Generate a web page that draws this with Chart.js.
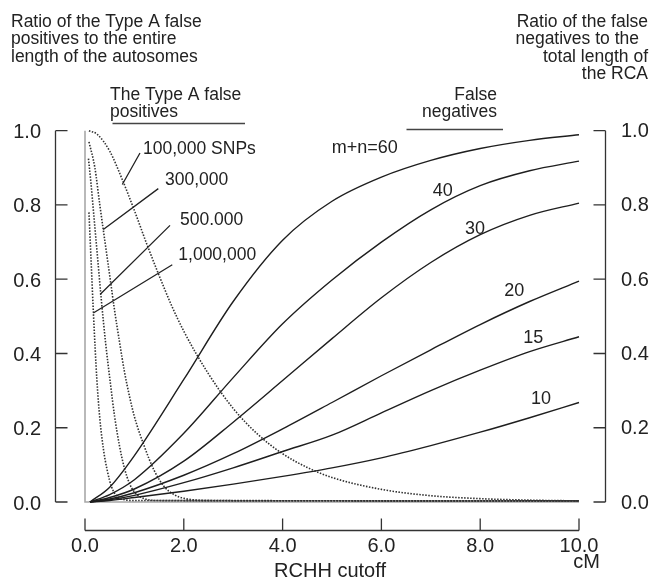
<!DOCTYPE html>
<html>
<head>
<meta charset="utf-8">
<script src="https://cdn.jsdelivr.net/npm/chart.js@4"></script>
<style>
html,body{margin:0;padding:0;background:#fff;}
#wrap{width:652px;height:579px;}
</style>
</head>
<body>
<div id="wrap"><canvas id="c" width="652" height="579"></canvas></div>
<script>
// ---- tick labels ----
const xTicks = [0, 2, 4, 6, 8, 10];
const xTickLabels = ['0.0', '2.0', '4.0', '6.0', '8.0', '10.0'];
const yTicks = [0, 0.2, 0.4, 0.6, 0.8, 1.0];
const yTickLabels = ['0.0', '0.2', '0.4', '0.6', '0.8', '1.0'];

// ---- false negatives (solid), by m+n ----
const fnNames = ['m+n=60', '40', '30', '20', '15', '10'];
const fnX = [0.1, 0.5, 1.0, 2.0, 3.0, 4.0, 5.0, 6.0, 7.0, 8.0, 9.0, 10];
const fn60Y = [0, 0.04, 0.125, 0.33, 0.54, 0.705, 0.81, 0.875, 0.92, 0.952, 0.974, 0.989];
const fn40Y = [0, 0.02, 0.06, 0.185, 0.335, 0.48, 0.598, 0.70, 0.787, 0.852, 0.892, 0.918];
const fn30Y = [0, 0.012, 0.035, 0.11, 0.215, 0.327, 0.44, 0.55, 0.645, 0.72, 0.772, 0.805];
const fn20Y = [0, 0.008, 0.025, 0.072, 0.13, 0.197, 0.268, 0.34, 0.41, 0.478, 0.54, 0.595];
const fn15Y = [0, 0.006, 0.018, 0.052, 0.092, 0.136, 0.18, 0.24, 0.30, 0.355, 0.405, 0.445];
const fn10Y = [0, 0.004, 0.012, 0.029, 0.048, 0.069, 0.092, 0.119, 0.152, 0.188, 0.227, 0.268];

// ---- Type A false positives (dotted), by number of SNPs ----
const fpNames = ['100,000 SNPs', '300,000', '500.000', '1,000,000'];
const fp100kX = [0.08, 0.25, 0.5, 0.75, 1.0, 1.25, 1.5, 1.75, 2.0, 2.5, 3.0, 3.5, 4.0, 4.5, 5.0, 6.0, 7.0, 8.0, 9.0, 10];
const fp100kY = [1.0, 0.99, 0.945, 0.87, 0.785, 0.695, 0.61, 0.53, 0.46, 0.345, 0.252, 0.182, 0.13, 0.093, 0.066, 0.034, 0.017, 0.009, 0.005, 0.003];
const fp300kX = [0.08, 0.2, 0.3, 0.4, 0.5, 0.6, 0.7, 0.8, 0.9, 1.0, 1.2, 1.4, 1.6, 1.8, 2.0, 2.5, 10];
const fp300kY = [0.97, 0.90, 0.80, 0.705, 0.61, 0.515, 0.43, 0.35, 0.285, 0.23, 0.15, 0.085, 0.042, 0.02, 0.01, 0.004, 0.003];
const fp500kX = [0.07, 0.12, 0.18, 0.25, 0.33, 0.42, 0.51, 0.6, 0.7, 0.8, 0.9, 1.0, 1.2, 1.5, 10];
const fp500kY = [0.925, 0.86, 0.77, 0.665, 0.545, 0.425, 0.324, 0.23, 0.15, 0.09, 0.05, 0.027, 0.009, 0.004, 0.003];
const fp1mX = [0.08, 0.12, 0.17, 0.24, 0.3, 0.37, 0.45, 0.54, 0.65, 0.8, 1.0, 10];
const fp1mY = [0.78, 0.66, 0.51, 0.33, 0.225, 0.145, 0.085, 0.04, 0.015, 0.006, 0.004, 0.003];

// leader lines for the false-positive labels: [x1, y1, x2, y2] in data units
const leader100k = [1.113, 0.940, 0.755, 0.855];
const leader300k = [1.484, 0.844, 0.370, 0.734];
const leader500k = [1.721, 0.745, 0.304, 0.559];
const leader1m = [1.767, 0.639, 0.168, 0.509];

function pts(xs, ys) { return xs.map((x, i) => ({ x: x, y: ys[i] })); }

const FONT = '"Liberation Sans", Arial, Helvetica, sans-serif';

function solid(label, xs, ys) {
  return { label, data: pts(xs, ys), borderColor: '#1e1e1e', borderWidth: 1.4,
    pointRadius: 0, cubicInterpolationMode: 'monotone', fill: false, clip: false };
}
function dotted(label, xs, ys) {
  return { label, data: pts(xs, ys), borderColor: '#303030', borderWidth: 1.6,
    borderDash: [1.5, 1.5], pointRadius: 0, cubicInterpolationMode: 'monotone', fill: false, clip: false };
}

const annot = {
  id: 'annot',
  beforeDatasetsDraw(chart) {
    const ctx = chart.ctx, xs = chart.scales.x, ys = chart.scales.y;
    ctx.save();
    ctx.strokeStyle = '#a8a8a8';
    ctx.lineWidth = 1.6;
    ctx.beginPath();
    ctx.moveTo(xs.getPixelForValue(0), ys.getPixelForValue(1));
    ctx.lineTo(xs.getPixelForValue(0), ys.getPixelForValue(0));
    ctx.lineTo(xs.getPixelForValue(10), ys.getPixelForValue(0));
    ctx.stroke();
    ctx.restore();
  },
  afterDraw(chart) {
    const ctx = chart.ctx, xs = chart.scales.x, ys = chart.scales.y;
    const X = v => xs.getPixelForValue(v), Y = v => ys.getPixelForValue(v);
    ctx.save();
    ctx.strokeStyle = '#333';
    ctx.fillStyle = '#222';
    ctx.lineWidth = 1.3;

    // left axis
    const lx = 55.5;
    ctx.beginPath();
    ctx.moveTo(lx, Y(1)); ctx.lineTo(lx, Y(0));
    yTicks.forEach(t => { ctx.moveTo(lx, Y(t)); ctx.lineTo(lx + 12, Y(t)); });
    // right axis
    const rx = 605.5;
    ctx.moveTo(rx, Y(1)); ctx.lineTo(rx, Y(0));
    yTicks.forEach(t => { ctx.moveTo(rx, Y(t)); ctx.lineTo(rx - 12, Y(t)); });
    // bottom axis
    const by = 530.5;
    ctx.moveTo(X(0), by); ctx.lineTo(X(10), by);
    xTicks.forEach(t => { ctx.moveTo(X(t), by); ctx.lineTo(X(t), by - 12); });
    ctx.stroke();

    ctx.font = '20px ' + FONT;
    ctx.textBaseline = 'middle';
    ctx.textAlign = 'right';
    yTicks.forEach((t, i) => ctx.fillText(yTickLabels[i], 41, Y(t) + 2));
    ctx.textAlign = 'left';
    yTicks.forEach((t, i) => ctx.fillText(yTickLabels[i], 621, Y(t) + 1));
    ctx.textBaseline = 'alphabetic';
    ctx.textAlign = 'center';
    xTicks.forEach((t, i) => ctx.fillText(xTickLabels[i], X(t), 552));
    ctx.fillText('RCHH cutoff', 330, 577);
    ctx.textAlign = 'right';
    ctx.fillText('cM', 600, 568);

    // headers
    ctx.font = '17.5px ' + FONT;
    ctx.textAlign = 'left';
    ['Ratio of the Type A false', 'positives to the entire', 'length of the autosomes']
      .forEach((s, i) => ctx.fillText(s, 11, 27 + i * 17.3));
    ctx.textAlign = 'right';
    const rh = ['Ratio of the false', 'negatives to the', 'total length of', 'the RCA'];
    const rr = [648, 639, 648, 648];
    rh.forEach((s, i) => ctx.fillText(s, rr[i], 27 + i * 17.4));

    ctx.textAlign = 'left';
    ctx.fillText('The Type A false', 110, 100);
    ctx.fillText('positives', 110, 116.7);
    ctx.textAlign = 'right';
    ctx.fillText('False', 497, 100);
    ctx.fillText('negatives', 497, 117);

    ctx.strokeStyle = '#444';
    ctx.lineWidth = 1.5;
    ctx.beginPath();
    ctx.moveTo(112.5, 123.5); ctx.lineTo(245, 123.5);
    ctx.moveTo(406.5, 129.5); ctx.lineTo(503, 129.5);
    ctx.stroke();

    // in-plot labels
    ctx.font = '17.5px ' + FONT;
    ctx.textAlign = 'left';
    ctx.fillText(fpNames[0], 143, 154);
    ctx.fillText(fpNames[1], 165, 185.3);
    ctx.fillText(fpNames[2], 180, 224.7);
    ctx.fillText(fpNames[3], 178.3, 260.3);
    ctx.font = '18px ' + FONT;
    ctx.fillText(fnNames[0], 331.7, 153);
    ctx.fillText(fnNames[1], 432.7, 196.3);
    ctx.fillText(fnNames[2], 465, 234);
    ctx.fillText(fnNames[3], 504.3, 296.3);
    ctx.fillText(fnNames[4], 523.3, 342.7);
    ctx.fillText(fnNames[5], 531, 404.3);

    // leader lines
    ctx.strokeStyle = '#222';
    ctx.lineWidth = 1.3;
    ctx.beginPath();
    [leader100k, leader300k, leader500k, leader1m].forEach(l => {
      ctx.moveTo(X(l[0]), Y(l[1])); ctx.lineTo(X(l[2]), Y(l[3]));
    });
    ctx.stroke();
    ctx.restore();
  }
};

new Chart(document.getElementById('c'), {
  type: 'line',
  data: {
    datasets: [
      solid(fnNames[0], fnX, fn60Y),
      solid(fnNames[1], fnX, fn40Y),
      solid(fnNames[2], fnX, fn30Y),
      solid(fnNames[3], fnX, fn20Y),
      solid(fnNames[4], fnX, fn15Y),
      solid(fnNames[5], fnX, fn10Y),
      dotted(fpNames[0], fp100kX, fp100kY),
      dotted(fpNames[1], fp300kX, fp300kY),
      dotted(fpNames[2], fp500kX, fp500kY),
      dotted(fpNames[3], fp1mX, fp1mY)
    ]
  },
  options: {
    responsive: false,
    animation: false,
    events: [],
    layout: { padding: { left: 85, right: 73, top: 130.7, bottom: 77 } },
    plugins: { legend: { display: false }, title: { display: false }, tooltip: { enabled: false } },
    scales: {
      x: { type: 'linear', min: 0, max: 10, display: false },
      y: { type: 'linear', min: 0, max: 1, display: false }
    }
  },
  plugins: [annot]
});
</script>
</body>
</html>
